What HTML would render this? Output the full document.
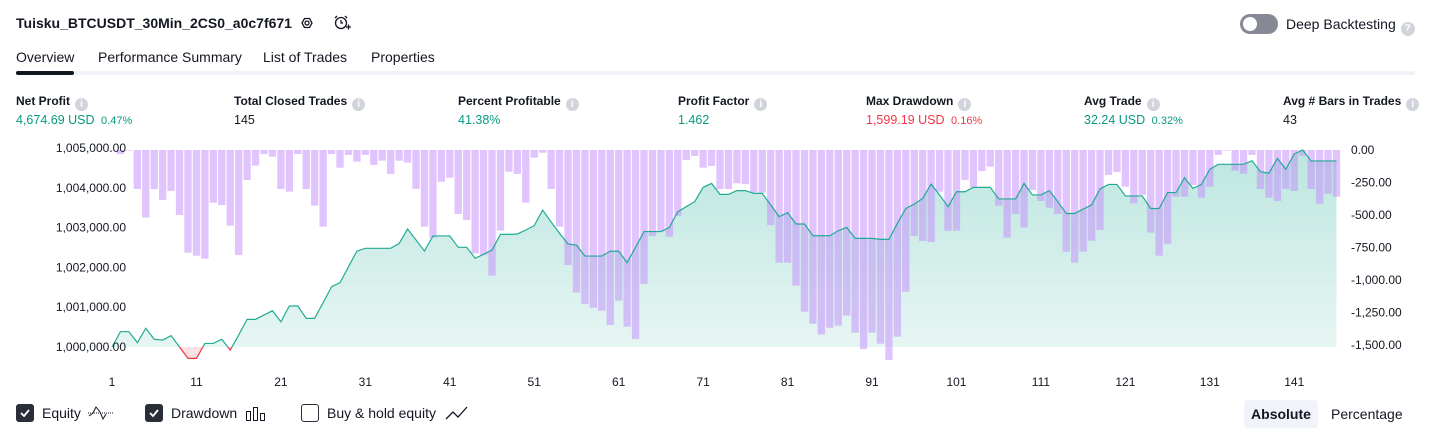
<!DOCTYPE html>
<html><head><meta charset="utf-8"><style>
*{margin:0;padding:0;box-sizing:border-box}
body{width:1431px;height:438px;background:#fff;font-family:"Liberation Sans",sans-serif;color:#131722;position:relative;overflow:hidden}
.a{position:absolute;white-space:nowrap}
.title{left:16px;top:15px;font-size:14px;font-weight:bold}
.tab{top:49px;font-size:14px}
.lbl{top:94px;font-size:12px;font-weight:bold;color:#131722}
.val{top:113px;font-size:12.5px}
.info{display:inline-block;width:13px;height:13px;border-radius:50%;background:#d1d4dc;color:#fff;font-size:10px;text-align:center;line-height:13px;margin-left:5px;vertical-align:-2px;font-weight:bold}
.g{color:#089981}.r{color:#f23645}
.cb{width:18px;height:18px;border-radius:3px;top:404px}
.leg{top:405px;font-size:14px}
</style></head><body>
<div class="a title">Tuisku_BTCUSDT_30Min_2CS0_a0c7f671</div>
<svg class="a" style="left:298px;top:14px" width="18" height="18"><polygon points="4,9 6.5,4.5 11.5,4.5 14,9 11.5,13.5 6.5,13.5" fill="none" stroke="#131722" stroke-width="1.3"/><circle cx="9" cy="9" r="2" fill="none" stroke="#131722" stroke-width="1.3"/></svg>
<svg class="a" style="left:332px;top:13px" width="20" height="20"><circle cx="9" cy="10" r="5.5" fill="none" stroke="#131722" stroke-width="1.3"/><path d="M9 7v3h2M3 5l2-2M15 5l-2-2M14 14h5M16.5 11.5v5" fill="none" stroke="#131722" stroke-width="1.3"/></svg>
<div class="a" style="left:1240px;top:14px;width:38px;height:20px;border-radius:10px;background:#868993"><div style="position:absolute;left:3px;top:3px;width:14px;height:14px;border-radius:50%;background:#fff"></div></div>
<div class="a" style="left:1286px;top:16px;font-size:14px">Deep Backtesting<span class="info" style="width:14px;height:14px;line-height:14px">?</span></div>
<div class="a tab" style="left:16px">Overview</div>
<div class="a tab" style="left:98px">Performance Summary</div>
<div class="a tab" style="left:263px">List of Trades</div>
<div class="a tab" style="left:371px">Properties</div>
<div class="a" style="left:16px;top:71px;width:1399px;height:4px;background:#f0f3fa"></div>
<div class="a" style="left:16px;top:71px;width:58px;height:4px;border-radius:2px;background:#131722"></div>

<div class="a lbl" style="left:16px">Net Profit<span class="info">i</span></div>
<div class="a val g" style="left:16px">4,674.69 USD <span style="font-size:11px">&nbsp;0.47%</span></div>
<div class="a lbl" style="left:234px">Total Closed Trades<span class="info">i</span></div>
<div class="a val" style="left:234px">145</div>
<div class="a lbl" style="left:458px">Percent Profitable<span class="info">i</span></div>
<div class="a val g" style="left:458px">41.38%</div>
<div class="a lbl" style="left:678px">Profit Factor<span class="info">i</span></div>
<div class="a val g" style="left:678px">1.462</div>
<div class="a lbl" style="left:866px">Max Drawdown<span class="info">i</span></div>
<div class="a val r" style="left:866px">1,599.19 USD <span style="font-size:11px">&nbsp;0.16%</span></div>
<div class="a lbl" style="left:1084px">Avg Trade<span class="info">i</span></div>
<div class="a val g" style="left:1084px">32.24 USD <span style="font-size:11px">&nbsp;0.32%</span></div>
<div class="a lbl" style="left:1283px">Avg # Bars in Trades<span class="info">i</span></div>
<div class="a val" style="left:1283px">43</div>

<svg id="chart" class="a" style="left:0;top:0" width="1431" height="395">
<defs>
<linearGradient id="gf" x1="0" y1="0" x2="0" y2="1"><stop offset="0" stop-color="#22ab94" stop-opacity="0.3"/><stop offset="1" stop-color="#22ab94" stop-opacity="0.1"/></linearGradient>
<clipPath id="above"><rect x="0" y="0" width="1431" height="347"/></clipPath>
<clipPath id="below"><rect x="0" y="347" width="1431" height="60"/></clipPath>
</defs>
<g id="fills"></g><g id="bars"></g><g id="lines"></g><g id="axes" font-size="12" fill="#131722"></g>
</svg>

<div class="a cb" style="left:16px;background:#2a2e39"><svg width="18" height="18"><path d="M5 9l3 3 5-6" fill="none" stroke="#fff" stroke-width="1.8"/></svg></div>
<div class="a leg" style="left:42px">Equity</div>
<svg class="a" style="left:88px;top:404px" width="26" height="18"><path d="M1 12l4-3 3-6 4 5 3 7 3-5" fill="none" stroke="#131722" stroke-width="1"/><line x1="0" y1="9" x2="26" y2="9" stroke="#131722" stroke-dasharray="1,1"/></svg>
<div class="a cb" style="left:145px;background:#2a2e39"><svg width="18" height="18"><path d="M5 9l3 3 5-6" fill="none" stroke="#fff" stroke-width="1.8"/></svg></div>
<div class="a leg" style="left:171px">Drawdown</div>
<svg class="a" style="left:245px;top:404px" width="22" height="18"><rect x="1.5" y="7.5" width="4" height="9" fill="none" stroke="#131722"/><rect x="8.5" y="3.5" width="4" height="13" fill="none" stroke="#131722"/><rect x="15.5" y="9.5" width="4" height="7" fill="none" stroke="#131722"/></svg>
<div class="a cb" style="left:301px;border:1.5px solid #2a2e39"></div>
<div class="a leg" style="left:327px">Buy &amp; hold equity</div>
<svg class="a" style="left:445px;top:404px" width="24" height="18"><path d="M1 15l7-7 5 5 9-10" fill="none" stroke="#131722" stroke-width="1.3"/></svg>
<div class="a" style="left:1244px;top:400px;width:74px;height:28px;border-radius:4px;background:#f0f3fa;font-size:14px;font-weight:bold;text-align:center;line-height:28px">Absolute</div>
<div class="a" style="left:1331px;top:406px;font-size:14px">Percentage</div>

<script>
const equity=[0,385,385,110,470,195,175,285,0,-285,-285,90,90,195,-75,300,695,695,805,910,635,1030,1030,720,720,1115,1515,1615,2015,2410,2480,2480,2480,2480,2600,2965,2690,2410,2790,2790,2790,2505,2505,2230,2330,2435,2830,2830,2840,2940,3050,3440,3140,2855,2590,2560,2285,2285,2285,2405,2405,2120,2505,2900,2900,2900,3005,3400,3525,3650,4010,4110,3835,3835,3930,3930,3860,3860,3570,3275,3375,3090,3090,2795,2795,2795,2920,3005,2730,2730,2730,2705,2705,3105,3480,3590,3735,4095,3820,3525,3900,3900,4010,4010,4010,3720,3720,3720,4110,3820,3820,3930,3650,3355,3355,3465,3570,3970,4085,4085,3795,3795,3795,3480,3480,3880,3880,4255,3985,4085,4465,4590,4590,4590,4590,4680,4405,4365,4740,4465,4850,4950,4675,4675,4675,4675];
const drawdown=[5,31,5,300,520,300,385,315,500,790,813,836,405,423,582,808,231,120,31,51,300,320,31,300,428,590,31,136,38,90,38,115,82,185,82,97,300,590,674,244,213,492,538,795,808,967,620,167,185,405,59,21,300,590,885,1097,1185,1213,1236,1346,1159,1359,1454,1031,662,628,667,508,77,46,136,123,300,300,256,262,326,328,577,867,867,1044,1244,1336,1420,1367,1351,1274,1405,1531,1405,1490,1615,1436,1090,662,700,708,321,621,621,231,287,162,128,428,674,492,597,308,392,444,492,782,867,782,697,615,192,169,282,410,346,636,813,721,359,359,269,367,282,38,5,159,182,38,300,367,392,300,315,44,300,413,336,359];
const leftTicks=["1,005,000.00","1,004,000.00","1,003,000.00","1,002,000.00","1,001,000.00","1,000,000.00"];
const leftTickValues=[5000,4000,3000,2000,1000,0];
const rightTicks=["0.00","-250.00","-500.00","-750.00","-1,000.00","-1,250.00","-1,500.00"];
const rightTickValues=[0,250,500,750,1000,1250,1500];
const xTicks=[1,11,21,31,41,51,61,71,81,91,101,111,121,131,141];

const NS="http://www.w3.org/2000/svg";
const n=equity.length;
const x=i=>112+i*(1336.5-112)/(n-1);
const yL=v=>347-v*0.0398;
const yR=v=>150+v*0.13;
function mk(tag,attrs,parent){const e=document.createElementNS(NS,tag);for(const k in attrs)e.setAttribute(k,attrs[k]);document.getElementById(parent).appendChild(e);return e;}
let pts=equity.map((v,i)=>x(i).toFixed(2)+","+yL(v).toFixed(2)).join(" ");
let poly=x(0)+",347 "+pts+" "+x(n-1)+",347";
let f1=mk("polygon",{points:poly,fill:"url(#gf)","clip-path":"url(#above)"},"fills");


let f2=mk("polygon",{points:poly,fill:"#f23645","fill-opacity":"0.15","clip-path":"url(#below)"},"fills");


const bw=7.3;
drawdown.forEach((d,i)=>{
  const r=mk("rect",{x:(x(i)-bw/2).toFixed(2),y:150,width:bw,height:Math.max(0.5,yR(d)-150).toFixed(2),fill:"#c489fd","fill-opacity":"0.5"},"bars");
  
  
});
let l1=mk("polyline",{points:pts,fill:"none",stroke:"#22ab94","stroke-width":"1.2","clip-path":"url(#above)"},"lines");


let l2=mk("polyline",{points:pts,fill:"none",stroke:"#f23645","stroke-width":"1.2","clip-path":"url(#below)"},"lines");


leftTicks.forEach((t,i)=>{const e=mk("text",{x:126,y:yL(leftTickValues[i])+4,"text-anchor":"end"},"axes");e.textContent=t;
  
  });
rightTicks.forEach((t,i)=>{const e=mk("text",{x:1351,y:yR(rightTickValues[i])+4},"axes");e.textContent=t;
  
  });
xTicks.forEach(t=>{const e=mk("text",{x:x(t-1),y:386,"text-anchor":"middle"},"axes");e.textContent=t;
  
  });
</script>
</body></html>
